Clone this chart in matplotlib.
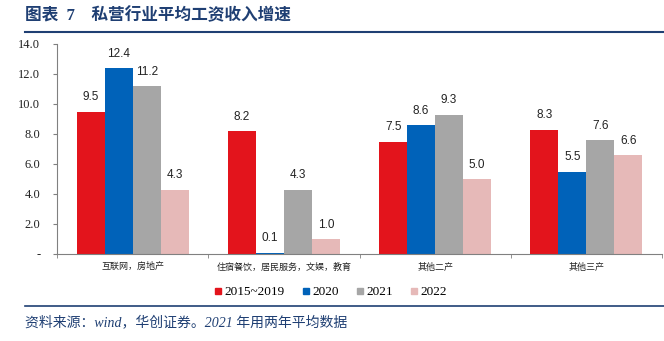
import matplotlib
matplotlib.use("Agg")
import matplotlib.pyplot as plt
import numpy as np
from matplotlib.ticker import FixedLocator, FuncFormatter
from matplotlib.lines import Line2D

categories = ["互联网，房地产", "住宿餐饮，居民服务，文娱，教育", "其他二产", "其他三产"]
series_names = ["2015~2019", "2020", "2021", "2022"]
s2015_2019 = [9.5, 8.2, 7.5, 8.3]
s2020 = [12.4, 0.1, 8.6, 5.5]
s2021 = [11.2, 4.3, 9.3, 7.6]
s2022 = [4.3, 1.0, 5.0, 6.6]
yticks = [0, 2, 4, 6, 8, 10, 12, 14]

colors = ["#E3141C", "#0062B9", "#A6A6A6", "#E6B9B8"]
CJK = ["Noto Sans CJK SC", "DejaVu Sans"]
SERIF = ["Liberation Serif", "DejaVu Serif"]
SERIF_CJK = ["Liberation Serif", "Noto Sans CJK SC"]
SANS = ["Liberation Sans", "DejaVu Sans"]

fig = plt.figure(figsize=(6.64, 3.41), dpi=100)
ax = fig.add_axes([57/664, 1-254/341, (662-57)/664, (254-44)/341])

x = np.arange(len(categories))
w = 0.185
allseries = [s2015_2019, s2020, s2021, s2022]
for i, (vals, c, name) in enumerate(zip(allseries, colors, series_names)):
    pos = x + (i - 1.5) * w
    ax.bar(pos, vals, w, color=c, label=name, zorder=2)
    for p, v in zip(pos, vals):
        ax.text(p, v + 0.55, f"{v:.1f}", ha="center", va="bottom",
                fontsize=8.5, family=SANS, color="#222222")

ax.set_xlim(-0.5, len(categories) - 0.5)
ax.set_ylim(0, 14)
ax.yaxis.set_major_locator(FixedLocator(yticks))
ax.yaxis.set_major_formatter(FuncFormatter(lambda v, p: "-" if v == 0 else f"{v:.1f}"))
for lab in ax.get_yticklabels():
    lab.set_family(SERIF)
ax.tick_params(axis="y", labelsize=9, length=3, color="#808080", pad=9, labelcolor="#222222")

ax.set_xticks(x)
ax.set_xticklabels(categories, family=CJK, fontsize=6.5, color="#222222")
ax.tick_params(axis="x", length=0, pad=6)
ax.set_xticks(np.arange(len(categories) + 1) - 0.5, minor=True)
ax.tick_params(axis="x", which="minor", length=3, color="#808080")

for s in ["top", "right"]:
    ax.spines[s].set_visible(False)
ax.spines["left"].set_color("#808080")
ax.spines["bottom"].set_color("#808080")

handles = [Line2D([0], [0], marker="s", linestyle="", markersize=5,
                  markerfacecolor=c, markeredgecolor=c) for c in colors]
fig.legend(handles, series_names, loc="center", bbox_to_anchor=(330/664, 1-292/341),
           ncol=4, frameon=False, prop={"family": SERIF, "size": 9.5},
           handlelength=0.8, handletextpad=0.1, columnspacing=1.2)

navy = "#1F3F73"
fig.text(25/664, 1-16/341, "图表  7    私营行业平均工资收入增速", family=SERIF_CJK, fontsize=12,
         fontweight="bold", color=navy, va="center", ha="left")
fig.add_artist(Line2D([25/664, 1.0], [1-32/341, 1-32/341], color=navy, lw=1.5))
fig.add_artist(Line2D([25/664, 1.0], [1-306/341, 1-306/341], color=navy, lw=1.2))
fig.text(25/664, 1-322/341, "资料来源：wind，华创证券。2021 年用两年平均数据", family=SERIF_CJK,
         fontsize=10, style="italic", color=navy, va="center", ha="left")

fig.savefig("out.png", dpi=100)
